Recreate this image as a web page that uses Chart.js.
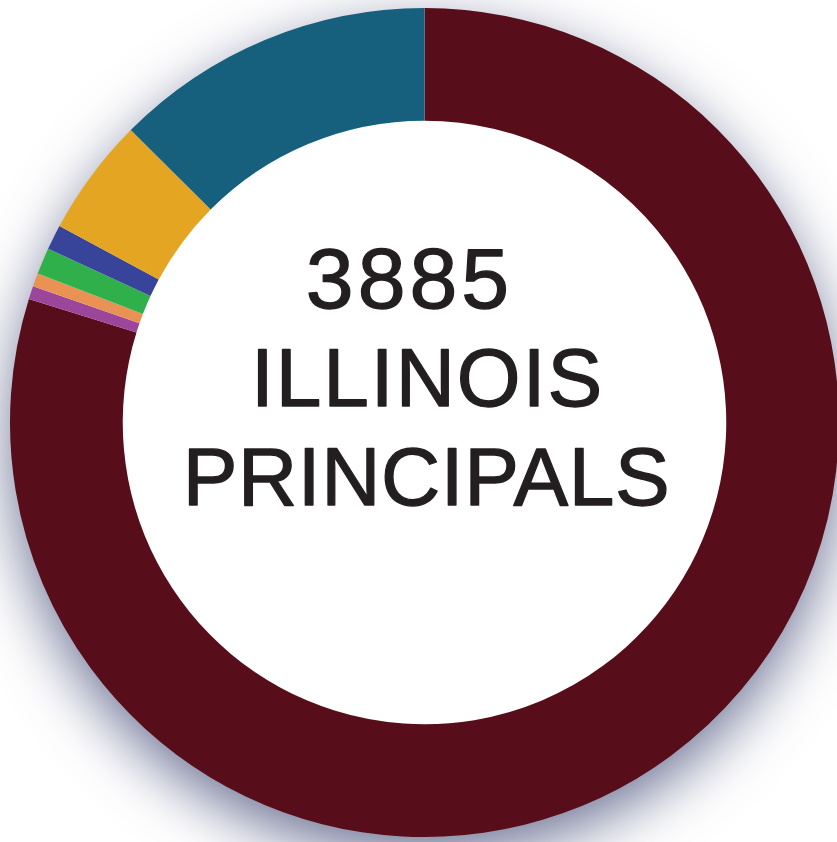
<!DOCTYPE html>
<html>
<head>
<meta charset="utf-8">
<script src="https://cdn.jsdelivr.net/npm/chart.js@4"></script>
<style>
  html, body { margin: 0; padding: 0; background: #fff; overflow: hidden; }
  #wrap { position: absolute; left: 0; top: 0; width: 849px; height: 842px; }
</style>
</head>
<body>
<div id="wrap"><canvas id="chart"></canvas></div>
<script>
// principals by group, clockwise from 12 o'clock
const labels = ['White', 'American Indian', 'Pacific Islander', 'Two or More Races', 'Asian', 'Hispanic', 'Black'];
const counts = [3101, 20, 20, 40, 38, 179, 487];
const colors = ['#570d1a', '#9b469b', '#ea9154', '#30b04b', '#38439a', '#e4a523', '#16607d'];
const centerLines = ['3885', 'ILLINOIS', 'PRINCIPALS'];

// soft drop shadow under the ring only (white disc drawn first, arcs on top)
const ringShadow = {
    id: 'ringShadow',
    beforeDatasetsDraw(chart) {
        const arc = chart.getDatasetMeta(0).data[0];
        if (!arc) return;
        const ctx = chart.ctx;
        ctx.save();
        ctx.shadowColor = 'rgba(60, 68, 112, 0.75)';
        ctx.shadowBlur = 60;
        ctx.shadowOffsetY = 20;
        ctx.fillStyle = '#fff';
        ctx.beginPath();
        ctx.arc(arc.x, arc.y, arc.outerRadius - 1, 0, Math.PI * 2);
        ctx.fill();
        ctx.restore();
    }
};

function line(ctx, text, x, y, spacing) {
    ctx.letterSpacing = spacing + 'px';
    ctx.fillText(text, x, y);
    ctx.strokeText(text, x, y);
}

const centerText = {
    id: 'centerText',
    afterDraw(chart) {
        const arc = chart.getDatasetMeta(0).data[0];
        const ctx = chart.ctx;
        ctx.save();
        ctx.fillStyle = '#231f20';
        ctx.strokeStyle = '#231f20';
        ctx.lineWidth = 1.3;
        ctx.lineJoin = 'round';
        ctx.textAlign = 'center';
        ctx.textBaseline = 'alphabetic';
        ctx.font = '86px "Liberation Sans", Arial, sans-serif';
        line(ctx, centerLines[0], arc.x - 15, arc.y - 115, 4);
        ctx.font = '82px "Liberation Sans", Arial, sans-serif';
        line(ctx, centerLines[1], arc.x + 3, arc.y - 17, 2);
        line(ctx, centerLines[2], arc.x + 2, arc.y + 82, 0.6);
        ctx.restore();
    }
};

new Chart(document.getElementById('chart'), {
    type: 'doughnut',
    data: {
        labels: labels,
        datasets: [{
            data: counts,
            backgroundColor: colors,
            borderWidth: 0
        }]
    },
    options: {
        responsive: true,
        maintainAspectRatio: false,
        animation: false,
        cutout: '72.8%',
        layout: { padding: { left: 10, right: 10, top: 8, bottom: 5 } },
        plugins: {
            legend: { display: false },
            tooltip: { enabled: false }
        }
    },
    plugins: [ringShadow, centerText]
});
</script>
</body>
</html>
